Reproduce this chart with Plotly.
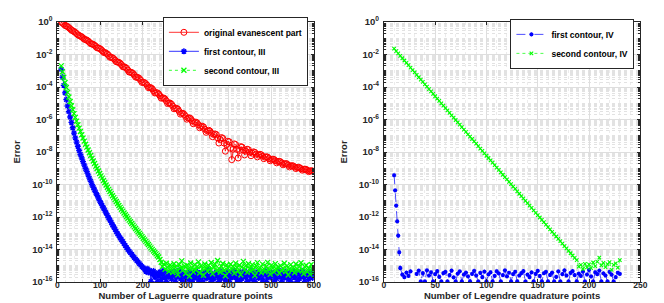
import plotly.graph_objects as go

# ---------------- data (log10 of error) ----------------
n_lag = list(range(9, 601, 3))

red_log = [
    0.00, -0.06, -0.13, -0.21, -0.24, -0.29, -0.35, -0.42, -0.50, -0.54,
    -0.59, -0.64, -0.71, -0.79, -0.83, -0.87, -0.92, -0.98, -1.06, -1.08,
    -1.12, -1.17, -1.25, -1.33, -1.35, -1.38, -1.43, -1.50, -1.59, -1.60,
    -1.63, -1.69, -1.77, -1.87, -1.88, -1.92, -1.97, -2.06, -2.17, -2.17,
    -2.20, -2.26, -2.35, -2.45, -2.46, -2.49, -2.54, -2.63, -2.75, -2.76,
    -2.79, -2.85, -2.96, -3.08, -3.08, -3.11, -3.17, -3.27, -3.39, -3.40,
    -3.42, -3.48, -3.59, -3.72, -3.71, -3.73, -3.80, -3.90, -4.04, -4.03,
    -4.05, -4.11, -4.23, -4.37, -4.35, -4.36, -4.43, -4.54, -4.69, -4.67,
    -4.68, -4.74, -4.86, -5.02, -4.98, -4.99, -5.06, -5.18, -5.34, -5.31,
    -5.31, -5.37, -5.50, -5.67, -5.62, -5.62, -5.69, -5.81, -5.98, -5.91,
    -5.90, -5.95, -6.08, -6.26, -6.18, -6.16, -6.21, -6.33, -6.51, -6.43,
    -6.41, -6.46, -6.60, -6.79, -6.70, -6.66, -6.71, -6.84, -7.06, -6.93,
    -6.89, -6.93, -7.13, -7.45, -7.22, -7.11, -7.16, -7.45, -7.95, -7.54,
    -7.34, -7.37, -7.77, -8.47, -7.83, -7.50, -7.54, -7.84, -8.37, -7.90,
    -7.67, -7.70, -7.88, -8.18, -7.95, -7.83, -7.86, -8.01, -8.23, -8.07,
    -7.99, -8.02, -8.13, -8.30, -8.19, -8.14, -8.17, -8.26, -8.41, -8.32,
    -8.29, -8.32, -8.41, -8.54, -8.47, -8.44, -8.46, -8.54, -8.67, -8.59,
    -8.57, -8.60, -8.68, -8.79, -8.73, -8.71, -8.73, -8.81, -8.92, -8.86,
    -8.84, -8.86, -8.92, -9.02, -8.96, -8.94, -8.97, -9.03, -9.12, -9.07,
    -9.05, -9.07, -9.13, -9.21, -9.17, -9.15, -9.17, -9.20,
]

blue_iii_log = [
    -2.90, -3.40, -3.90, -4.36, -4.78, -5.17, -5.52, -5.85, -6.18, -6.51,
    -6.84, -7.13, -7.39, -7.65, -7.91, -8.15, -8.37, -8.59, -8.80, -9.02,
    -9.21, -9.41, -9.61, -9.80, -10.00, -10.17, -10.33, -10.50, -10.66, -10.83,
    -11.00, -11.15, -11.30, -11.45, -11.60, -11.75, -11.90, -12.05, -12.19, -12.33,
    -12.48, -12.62, -12.76, -12.90, -13.04, -13.16, -13.28, -13.40, -13.52, -13.64,
    -13.76, -13.88, -14.00, -14.10, -14.20, -14.30, -14.40, -14.50, -14.59, -14.68,
    -14.78, -14.87, -14.96, -15.05,
    -15.12, -15.20, -15.35, -15.18, -15.42, -15.28, -15.96, -15.51, -15.33, -15.70,
    -15.45, -15.96, -15.62, -15.38, -15.84, -15.55, -15.29, -15.72, -15.96, -15.47,
    -15.66, -15.40, -15.81, -15.58, -15.35, -15.96, -15.69, -15.50, -15.27, -15.77,
    -15.60, -15.96, -15.43, -15.65, -15.52, -15.85, -15.36, -15.61, -15.96, -15.48,
    -15.74, -15.31, -15.57, -15.88, -15.44, -15.68, -15.96, -15.53, -15.39, -15.79,
    -15.62, -15.26, -15.71, -15.96, -15.49, -15.83, -15.58, -15.41, -15.67, -15.96,
    -15.34, -15.75, -15.55, -15.46, -15.89, -15.63, -15.37, -15.96, -15.59, -15.72,
    -15.45, -15.30, -15.66, -15.84, -15.52, -15.96, -15.40, -15.78, -15.61, -15.35,
    -15.70, -15.96, -15.48, -15.57, -15.82, -15.29, -15.64, -15.96, -15.51, -15.38,
    -15.76, -15.60, -15.44, -15.87, -15.55, -15.32, -15.96, -15.68, -15.47, -15.73,
    -15.39, -15.61, -15.96, -15.54, -15.80, -15.42, -15.28, -15.66, -15.96, -15.50,
    -15.74, -15.37, -15.59, -15.85, -15.45, -15.96, -15.63, -15.33, -15.71, -15.52,
    -15.96, -15.40, -15.77, -15.58, -15.31, -15.69, -15.96, -15.49, -15.62, -15.83,
    -15.36, -15.57, -15.75, -15.44,
]

green_iii_log = [
    -2.70, -3.06, -3.40, -3.72, -4.03, -4.33, -4.62, -4.89, -5.15, -5.40,
    -5.64, -5.87, -6.10, -6.32, -6.53, -6.74, -6.94, -7.14, -7.33, -7.52,
    -7.70, -7.88, -8.05, -8.22, -8.39, -8.55, -8.71, -8.87, -9.02, -9.17,
    -9.32, -9.47, -9.61, -9.75, -9.89, -10.03, -10.17, -10.30, -10.43, -10.56,
    -10.69, -10.81, -10.93, -11.05, -11.17, -11.29, -11.41, -11.52, -11.64, -11.75,
    -11.86, -11.97, -12.08, -12.19, -12.29, -12.40, -12.50, -12.61, -12.71, -12.81,
    -12.91, -13.01, -13.11, -13.21, -13.31, -13.41, -13.50, -13.60, -13.69, -13.79,
    -13.90, -13.99, -14.09, -14.18, -14.27, -14.37, -14.46, -14.62,
    -14.78, -15.05, -14.90, -15.22, -14.85, -15.10, -15.35, -14.95, -15.18, -15.42,
    -14.88, -15.08, -15.30, -15.55, -14.92, -15.15, -14.70, -15.25, -15.02, -15.48,
    -14.97, -15.20, -15.65, -14.83, -15.12, -15.38, -14.93, -15.27, -15.06, -14.76,
    -15.45, -15.00, -15.19, -15.58, -14.89, -15.14, -15.33, -14.98, -15.24, -14.80,
    -15.50, -15.09, -14.90, -15.31, -14.68, -15.16, -15.40, -15.03, -14.86, -15.28,
    -15.62, -14.95, -15.13, -15.36, -14.91, -15.21, -15.04, -15.47, -14.84, -15.11,
    -15.32, -14.97, -15.55, -15.07, -14.73, -15.26, -15.00, -15.41, -14.88, -15.17,
    -15.34, -14.94, -15.22, -15.60, -15.02, -14.81, -15.29, -15.12, -15.44, -14.90,
    -15.19, -15.37, -15.05, -14.79, -15.25, -15.52, -14.96, -15.14, -15.39, -14.87,
    -15.23, -15.08, -15.46, -14.99, -15.31, -15.16, -14.85, -15.35, -15.01, -15.57,
    -15.20, -14.93, -15.28, -15.10, -15.43, -14.89, -15.18, -15.33, -15.04, -14.82,
    -15.26, -15.49, -15.07, -14.97, -15.36, -15.15, -15.53, -14.92, -15.22, -15.40,
]

n_leg_blue = list(range(10, 17)) + list(range(18, 231, 2))
blue_iv_log = [
    -9.43, -10.36, -11.30, -12.27, -13.15, -14.17, -15.14,
    -15.55, -15.70, -15.42, -15.62, -15.35, None, None, -15.50, -15.30, -15.96,
    -15.45, -15.96, -15.28, -15.60, -15.40, -15.96, -15.52, -15.33, -15.68, -15.96,
    -15.45, -15.38, -15.96, -15.58, -15.30, -15.72, -15.96, -15.48, -15.35, -15.96,
    -15.55, -15.42, -15.65, -15.96, -15.50, -15.32, -15.60, -15.96, -15.44, -15.70,
    -15.36, -15.96, -15.53, -15.40, -15.96, -15.62, -15.34, -15.47, -15.96, -15.58,
    -15.29, -15.65, -15.43, -15.96, -15.52, -15.37, -15.96, -15.60, -15.45, -15.33,
    -15.96, -15.55, -15.70, -15.41, -15.96, -15.50, -15.31, -15.63, -15.96, -15.46,
    -15.38, -15.96, -15.57, -15.42, -15.96, -15.68, -15.35, -15.96, -15.51, -15.28,
    -15.60, -15.96, -15.44, -15.33, -15.58, -15.96, -15.48, -15.62, -15.36, -15.96,
    -15.54, -15.25, -15.66, -15.96, -15.40, -15.52, -15.30, -15.96, -15.47, -15.60,
    -15.96, -15.38, -15.55, -15.96, -15.70, -15.43, -15.50,
]

n_leg_green = list(range(10, 231, 2))
green_iv_log = [
    -1.64, -1.79, -1.93, -2.08, -2.23, -2.37, -2.52, -2.66, -2.81, -2.96,
    -3.10, -3.25, -3.40, -3.54, -3.69, -3.84, -3.98, -4.13, -4.27, -4.42,
    -4.57, -4.71, -4.86, -5.01, -5.15, -5.30, -5.44, -5.59, -5.74, -5.88,
    -6.03, -6.18, -6.32, -6.47, -6.62, -6.76, -6.91, -7.05, -7.20, -7.35,
    -7.49, -7.64, -7.79, -7.93, -8.08, -8.23, -8.37, -8.52, -8.66, -8.81,
    -8.96, -9.10, -9.25, -9.40, -9.54, -9.69, -9.84, -9.98, -10.13, -10.27,
    -10.42, -10.57, -10.71, -10.86, -11.01, -11.15, -11.30, -11.44, -11.59, -11.74,
    -11.88, -12.03, -12.18, -12.32, -12.47, -12.62, -12.76, -12.91, -13.05, -13.20,
    -13.35, -13.49, -13.64, -13.79, -13.93, -14.08, -14.23, -14.37, -14.52, -14.66,
    -15.05, -14.95, -15.20, -14.88, -15.10, -14.92, -15.15, -14.80, -15.02, -14.75,
    -14.50, -14.98, -14.82, -15.08, -14.90, -14.78, -15.25, -14.95, -14.85, -15.12,
    -14.65,
]

assert len(red_log) == len(n_lag)
assert len(blue_iii_log) == len(n_lag)
assert len(green_iii_log) == len(n_lag)
assert len(blue_iv_log) == len(n_leg_blue)
assert len(green_iv_log) == len(n_leg_green)

y_tick_exp = [0, -2, -4, -6, -8, -10, -12, -14, -16]


def to_err(vals):
    return [None if v is None else 10.0 ** v for v in vals]


FONT = "Liberation Sans, Arial, Helvetica, sans-serif"
AX = "#262626"
RED, BLUE, GREEN = "#ff0000", "#0000ff", "#00ff00"

fig = go.Figure()

fig.add_trace(go.Scatter(
    x=n_lag, y=to_err(red_log), mode="lines+markers", name="original evanescent part",
    line=dict(color=RED, width=0.8),
    marker=dict(symbol="circle-open", size=6, color=RED, line=dict(width=1.0, color=RED)),
    xaxis="x", yaxis="y", legend="legend"))
fig.add_trace(go.Scatter(
    x=n_lag, y=to_err(blue_iii_log), mode="lines+markers", name="first contour, III",
    line=dict(color=BLUE, width=0.8),
    marker=dict(symbol="asterisk-open", size=5, color=BLUE, line=dict(width=1.4, color=BLUE)),
    xaxis="x", yaxis="y", legend="legend"))
fig.add_trace(go.Scatter(
    x=n_lag, y=to_err(green_iii_log), mode="lines+markers", name="second contour, III",
    line=dict(color=GREEN, width=0.8, dash="dot"),
    marker=dict(symbol="x-thin-open", size=5, color=GREEN, line=dict(width=1.3, color=GREEN)),
    xaxis="x", yaxis="y", legend="legend"))

fig.add_trace(go.Scatter(
    x=n_leg_blue, y=to_err(blue_iv_log), mode="lines+markers", name="first contour, IV",
    line=dict(color=BLUE, width=0.7, dash="dash"),
    marker=dict(symbol="asterisk-open", size=3.5, color=BLUE, line=dict(width=1.2, color=BLUE)),
    xaxis="x2", yaxis="y2", legend="legend2"))
fig.add_trace(go.Scatter(
    x=n_leg_green, y=to_err(green_iv_log), mode="lines+markers", name="second contour, IV",
    line=dict(color=GREEN, width=0.7, dash="dot"),
    marker=dict(symbol="x-thin-open", size=3.5, color=GREEN, line=dict(width=1.1, color=GREEN)),
    xaxis="x2", yaxis="y2", legend="legend2"))

xtickfont = dict(family=FONT, size=8.5, color=AX, weight="bold")
ytickfont = dict(family=FONT, size=9.5, color=AX, weight="bold")
titlefont = dict(family=FONT, size=9.5, color=AX, weight="bold")


def xaxis_cfg(domain, rng, dtick, minor_dtick, title, anchor):
    return dict(domain=domain, range=rng, dtick=dtick, tick0=0, anchor=anchor,
                showline=True, linecolor=AX, linewidth=1, mirror="ticks",
                ticks="inside", ticklen=3, tickcolor=AX, tickfont=xtickfont,
                ticklabelstandoff=-5,
                showgrid=True, gridcolor="#dedede", gridwidth=1, zeroline=False,
                minor=dict(dtick=minor_dtick, showgrid=True, gridcolor="#ececec",
                           griddash="dot", gridwidth=1),
                title=dict(text=title, font=titlefont, standoff=2))


def yaxis_cfg(anchor):
    return dict(type="log", range=[-16, 0], anchor=anchor,
                tickvals=[10.0 ** e for e in y_tick_exp],
                ticktext=["10<sup>%d</sup>" % e for e in y_tick_exp],
                showline=True, linecolor=AX, linewidth=1, mirror="ticks",
                ticks="inside", ticklen=3, tickcolor=AX, tickfont=ytickfont,
                ticklabelstandoff=2,
                showgrid=True, gridcolor="#dedede", gridwidth=1, zeroline=False,
                minor=dict(dtick="D1", showgrid=True, gridcolor="#e2e2e2",
                           griddash="dot", gridwidth=1, ticks="inside", ticklen=2,
                           tickcolor=AX),
                title=dict(text="Error", font=titlefont, standoff=9))


W, H = 664, 303
legfont = dict(family=FONT, size=8.5, color="black", weight="bold")
fig.update_layout(
    width=W, height=H,
    margin=dict(l=0, r=0, t=14, b=29),
    paper_bgcolor="white", plot_bgcolor="white",
    font=dict(family=FONT, color=AX),
    xaxis=xaxis_cfg([48 / W, 308 / W], [0, 600], 100, 20,
                    "Number of Laguerre quadrature points", "y"),
    yaxis=yaxis_cfg("x"),
    xaxis2=xaxis_cfg([379 / W, 639 / W], [0, 250], 50, 10,
                     "Number of Legendre quadrature points", "y2"),
    yaxis2=yaxis_cfg("x2"),
    legend=dict(x=302 / W, y=1.02, xanchor="right", yanchor="top",
                bgcolor="white", bordercolor=AX, borderwidth=1, font=legfont,
                tracegroupgap=0, itemwidth=30),
    legend2=dict(x=633 / W, y=1.012, xanchor="right", yanchor="top",
                 bgcolor="white", bordercolor=AX, borderwidth=1, font=legfont,
                 tracegroupgap=0, itemwidth=30),
    showlegend=True,
)

fig.write_html("out.html")
